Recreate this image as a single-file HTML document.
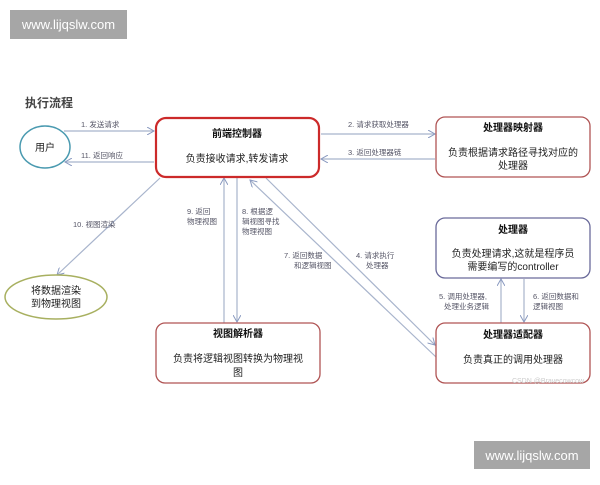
<!DOCTYPE html>
<html><head><meta charset="utf-8"><style>
body{margin:0;background:#fff;}
svg text{font-family:"Liberation Sans","Noto Sans CJK SC",sans-serif;}
</style></head><body>
<svg width="600" height="480" viewBox="0 0 600 480" xmlns="http://www.w3.org/2000/svg">
<defs>
<marker id="a" markerWidth="8" markerHeight="8" refX="7" refY="4" orient="auto" markerUnits="userSpaceOnUse">
<path d="M0,0 L7,4 L0,8" fill="none" stroke="#8a9ac0" stroke-width="1"/></marker>
</defs>
<rect x="10" y="10" width="117" height="29" fill="#a6a6a6"/>
<text x="68.5" y="29" font-size="13" fill="#fff" text-anchor="middle">www.lijqslw.com</text>
<rect x="474" y="441" width="116" height="28" fill="#a6a6a6"/>
<text x="532" y="460" font-size="13" fill="#fff" text-anchor="middle">www.lijqslw.com</text>

<text x="25" y="107" font-size="12" font-weight="bold" fill="#444">执行流程</text>

<g stroke="#a8b4cc" stroke-width="1.2" fill="none">
<line x1="64" y1="131" x2="154" y2="131" marker-end="url(#a)"/>
<line x1="154" y1="162" x2="65" y2="162" marker-end="url(#a)"/>
<line x1="321" y1="134" x2="435" y2="134" marker-end="url(#a)"/>
<line x1="435" y1="159" x2="321" y2="159" marker-end="url(#a)"/>
<line x1="160" y1="178" x2="57" y2="275" marker-end="url(#a)"/>
<line x1="224" y1="323" x2="224" y2="178" marker-end="url(#a)"/>
<line x1="237" y1="178" x2="237" y2="322" marker-end="url(#a)"/>
<line x1="436" y1="357" x2="250" y2="180" marker-end="url(#a)"/>
<line x1="266" y1="178" x2="435" y2="345" marker-end="url(#a)"/>
<line x1="501" y1="323" x2="501" y2="279" marker-end="url(#a)"/>
<line x1="524" y1="279" x2="524" y2="322" marker-end="url(#a)"/>
</g>

<g font-size="7.5" fill="#556">
<text x="81" y="127">1. 发送请求</text>
<text x="81" y="158">11. 返回响应</text>
<text x="348" y="127">2. 请求获取处理器</text>
<text x="348" y="155">3. 返回处理器链</text>
<text x="73" y="227">10. 视图渲染</text>
<text x="187" y="214">9. 返回</text><text x="187" y="224">物理视图</text>
<text x="242" y="214">8. 根据逻</text><text x="242" y="224">辑视图寻找</text><text x="242" y="234">物理视图</text>
<text x="284" y="258">7. 返回数据</text><text x="294" y="268">和逻辑视图</text>
<text x="356" y="258">4. 请求执行</text><text x="366" y="268">处理器</text>
<text x="439" y="299">5. 调用处理器,</text><text x="444" y="309">处理业务逻辑</text>
<text x="533" y="299">6. 返回数据和</text><text x="533" y="309">逻辑视图</text>
</g>

<ellipse cx="45" cy="147" rx="25" ry="21" fill="#fff" stroke="#4a9ab0" stroke-width="1.5"/>
<text x="45" y="151" font-size="10" text-anchor="middle" fill="#222">用户</text>
<ellipse cx="56" cy="297" rx="51" ry="22" fill="#fff" stroke="#a8b060" stroke-width="1.5"/>
<text x="56" y="294" font-size="10" text-anchor="middle" fill="#222">将数据渲染</text>
<text x="56" y="307" font-size="10" text-anchor="middle" fill="#222">到物理视图</text>

<rect x="156" y="118" width="163" height="59" rx="10" fill="#fff" stroke="#cc2a2a" stroke-width="2.2"/>
<text x="237" y="137" font-size="10" font-weight="bold" text-anchor="middle" fill="#111">前端控制器</text>
<text x="237" y="162" font-size="10" text-anchor="middle" fill="#222">负责接收请求,转发请求</text>

<rect x="436" y="117" width="154" height="60" rx="9" fill="#fff" stroke="#b05555" stroke-width="1.3"/>
<text x="513" y="131" font-size="10" font-weight="bold" text-anchor="middle" fill="#111">处理器映射器</text>
<text x="513" y="156" font-size="10" text-anchor="middle" fill="#222">负责根据请求路径寻找对应的</text>
<text x="513" y="169" font-size="10" text-anchor="middle" fill="#222">处理器</text>

<rect x="436" y="218" width="154" height="60" rx="9" fill="#fff" stroke="#6a6a9a" stroke-width="1.3"/>
<text x="513" y="233" font-size="10" font-weight="bold" text-anchor="middle" fill="#111">处理器</text>
<text x="513" y="257" font-size="10" text-anchor="middle" fill="#222">负责处理请求,这就是程序员</text>
<text x="513" y="270" font-size="10" text-anchor="middle" fill="#222">需要编写的controller</text>

<rect x="436" y="323" width="154" height="60" rx="9" fill="#fff" stroke="#b05555" stroke-width="1.3"/>
<text x="513" y="338" font-size="10" font-weight="bold" text-anchor="middle" fill="#111">处理器适配器</text>
<text x="513" y="363" font-size="10" text-anchor="middle" fill="#222">负责真正的调用处理器</text>
<text x="548" y="383" font-size="7" fill="#ccc" text-anchor="middle">CSDN @Bravecowcow</text>

<rect x="156" y="323" width="164" height="60" rx="9" fill="#fff" stroke="#b05555" stroke-width="1.3"/>
<text x="238" y="337" font-size="10" font-weight="bold" text-anchor="middle" fill="#111">视图解析器</text>
<text x="238" y="362" font-size="10" text-anchor="middle" fill="#222">负责将逻辑视图转换为物理视</text>
<text x="238" y="376" font-size="10" text-anchor="middle" fill="#222">图</text>
</svg>
</body></html>
